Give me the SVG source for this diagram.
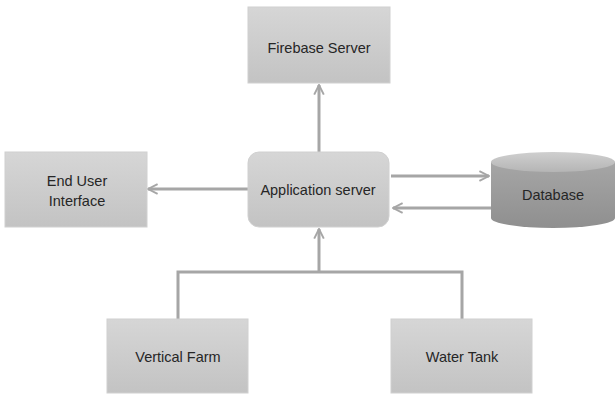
<svg xmlns="http://www.w3.org/2000/svg" width="615" height="394" viewBox="0 0 615 394">
<defs>
<linearGradient id="boxg" x1="0" y1="0" x2="0" y2="1">
<stop offset="0" stop-color="#d6d6d6"/>
<stop offset="1" stop-color="#c3c3c3"/>
</linearGradient>
<linearGradient id="dbg" x1="0" y1="0" x2="0" y2="1">
<stop offset="0" stop-color="#a6a6a6"/>
<stop offset="1" stop-color="#8f8f8f"/>
</linearGradient>
<linearGradient id="dbtop" x1="0" y1="0" x2="0" y2="1">
<stop offset="0" stop-color="#cfcfcf"/>
<stop offset="1" stop-color="#b5b5b5"/>
</linearGradient>
<marker id="arr" viewBox="0 0 10 10" refX="9" refY="5" markerWidth="4" markerHeight="4" orient="auto" markerUnits="strokeWidth">
<path d="M1,1 L9,5 L1,9" fill="none" stroke="#a6a6a6" stroke-width="1.6"/>
</marker>
</defs>
<style>
.box{fill:url(#boxg);stroke:#d0d0d0;stroke-width:1}
.lbl{font-family:"Liberation Sans",Arial,sans-serif;font-size:14.5px;fill:#262626;text-anchor:middle}
.ln{fill:none;stroke:#a6a6a6;stroke-width:3}
</style>
<rect width="615" height="394" fill="#ffffff"/>
<g id="connectors">
<line class="ln" x1="319" y1="152" x2="319" y2="85" marker-end="url(#arr)"/>
<line class="ln" x1="248" y1="189" x2="148" y2="189" marker-end="url(#arr)"/>
<line class="ln" x1="391" y1="176" x2="489" y2="176" marker-end="url(#arr)"/>
<line class="ln" x1="491" y1="208" x2="393" y2="208" marker-end="url(#arr)"/>
<polyline class="ln" points="178,319 178,272 462,272 462,319"/>
<line class="ln" x1="319" y1="272" x2="319" y2="229" marker-end="url(#arr)"/>
</g>
<g id="firebase">
<rect class="box" x="248" y="7" width="142" height="76"/>
<text class="lbl" x="319" y="53">Firebase Server</text>
</g>
<g id="enduser">
<rect class="box" x="5" y="152" width="142" height="75"/>
<text class="lbl" x="77" y="186">End User</text>
<text class="lbl" x="77" y="206">Interface</text>
</g>
<g id="appserver">
<rect class="box" x="248" y="152" width="141" height="75" rx="11"/>
<text class="lbl" x="318" y="195">Application server</text>
</g>
<g id="database">
<path d="M491,162 L491,218 A62,10 0 0 0 615,218 L615,162 Z" fill="url(#dbg)"/>
<ellipse cx="553" cy="162" rx="62" ry="10" fill="url(#dbtop)"/>
<text class="lbl" x="553" y="200">Database</text>
</g>
<g id="verticalfarm">
<rect class="box" x="107" y="319" width="141" height="74"/>
<text class="lbl" x="178" y="362">Vertical Farm</text>
</g>
<g id="watertank">
<rect class="box" x="391" y="319" width="141" height="74"/>
<text class="lbl" x="462" y="362">Water Tank</text>
</g>
</svg>
